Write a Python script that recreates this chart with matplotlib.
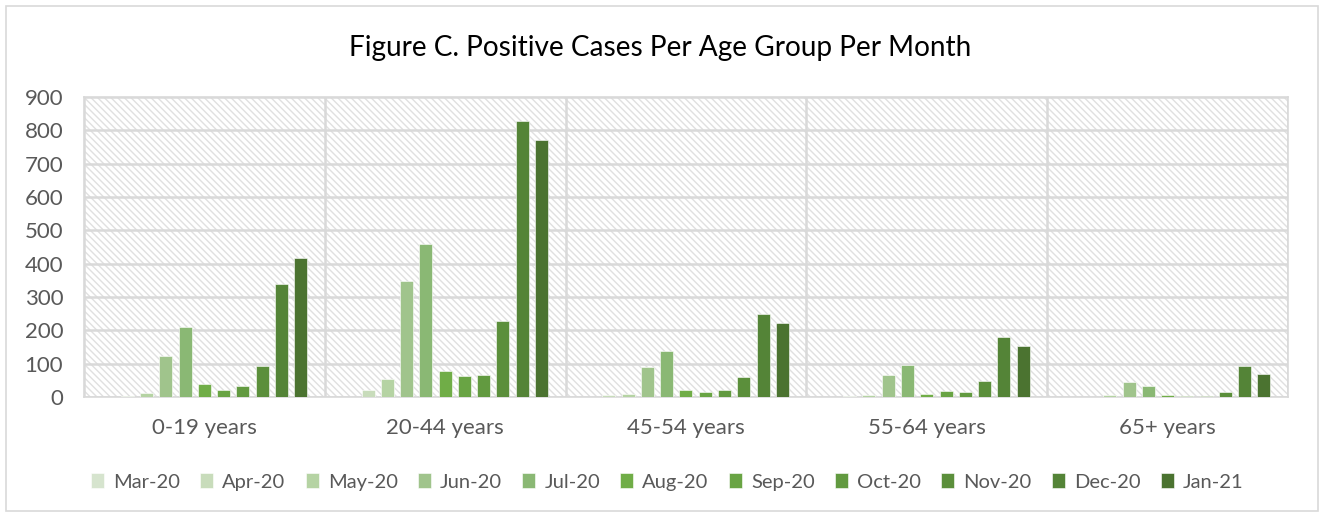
import numpy as np
import matplotlib.pyplot as plt
from matplotlib.patches import Rectangle

groups = ["0-19 years", "20-44 years", "45-54 years", "55-64 years", "65+ years"]
months = ["Mar-20", "Apr-20", "May-20", "Jun-20", "Jul-20", "Aug-20",
          "Sep-20", "Oct-20", "Nov-20", "Dec-20", "Jan-21"]

# cases per month, one list per age group
age_0_19 = [0, 2, 12, 124, 209, 38, 22, 34, 93, 338, 417]
age_20_44 = [0, 22, 53, 348, 460, 78, 62, 67, 228, 827, 771]
age_45_54 = [0, 5, 9, 90, 137, 20, 14, 21, 59, 249, 223]
age_55_64 = [0, 2, 7, 65, 95, 8, 17, 15, 47, 179, 153]
age_65_up = [0, 1, 5, 44, 32, 7, 4, 4, 16, 92, 68]

colors = ["#d6e4ce", "#c8dcbb", "#b5d3a3", "#a0c48c", "#8ab874", "#70ad47",
          "#69a444", "#629a40", "#5b8f3b", "#548437", "#4b7330"]

data = np.array([age_0_19, age_20_44, age_45_54, age_55_64, age_65_up])

plt.rcParams['font.family'] = ['Lato', 'DejaVu Sans']
plt.rcParams['hatch.linewidth'] = 1.0

fig = plt.figure(figsize=(13.21, 5.17), dpi=100)
ax = fig.add_axes([0.0636, 0.2321, 0.9114, 0.5803])

# outer frame of the chart
fig.patches.append(Rectangle((6 / 1321, 6 / 517), 1312 / 1321, 505 / 517,
                             transform=fig.transFigure, fill=False,
                             edgecolor="#d9d9d9", linewidth=1.2))

# hatched plot background
ax.add_patch(Rectangle((0, 0), 1, 1, transform=ax.transAxes, facecolor="white",
                       edgecolor="#e0e0e0", hatch="\\\\\\\\\\", linewidth=0, zorder=0))

x = np.arange(len(groups))
step = 0.08
width = 0.054
for i, m in enumerate(months):
    ax.bar(x + (i - 5) * step, data[:, i], width=width, color=colors[i],
           label=m, zorder=3, edgecolor="white", linewidth=0.4)

ax.set_xlim(-0.5, 4.5)
ax.set_ylim(0, 900)
ax.set_yticks(range(0, 901, 100))
ax.set_xticks(x)
ax.set_xticklabels(groups)
ax.set_xticks(np.arange(-0.5, 4.6, 1.0), minor=True)
ax.grid(axis="y", which="major", color="#d9d9d9", linewidth=1.8, zorder=1)
ax.grid(axis="x", which="minor", color="#d9d9d9", linewidth=1.8, zorder=1)
ax.grid(axis="x", which="major", visible=False)
ax.tick_params(axis="both", which="both", length=0, labelsize=16, colors="#595959")
ax.tick_params(axis="x", pad=15)
ax.tick_params(axis="y", pad=15)
for s in ax.spines.values():
    s.set_color("#d9d9d9")
    s.set_linewidth(1.2)

fig.text(0.5, 0.907, "Figure C. Positive Cases Per Age Group Per Month",
         ha="center", va="center", fontsize=20.2, color="black")

leg = fig.legend(loc="center", bbox_to_anchor=(0.505, 0.068), ncol=11,
                 frameon=False, fontsize=14.5, handlelength=0.65, handleheight=0.75,
                 handletextpad=0.45, columnspacing=1.0)
for t in leg.get_texts():
    t.set_color("#595959")

fig.savefig("out.png", dpi=100)
